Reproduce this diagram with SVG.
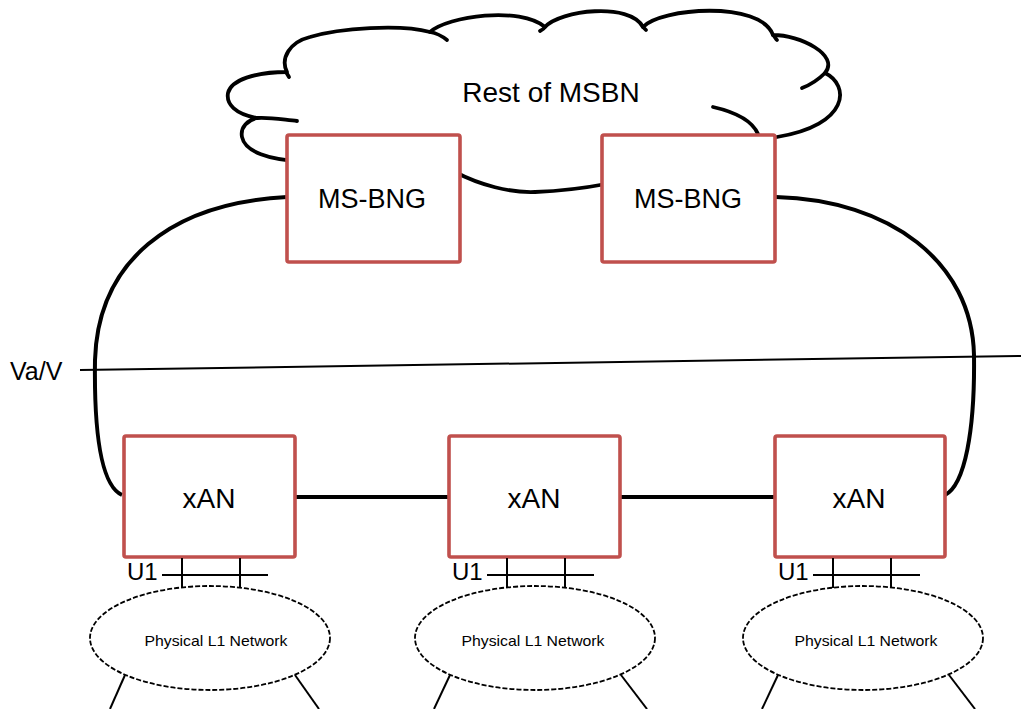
<svg xmlns="http://www.w3.org/2000/svg" width="1021" height="709" viewBox="0 0 1021 709">
<style>
.cloud{fill:none;stroke:#000;stroke-width:3.8;stroke-linecap:round;stroke-linejoin:round}
.conn{fill:none;stroke:#000;stroke-width:4;stroke-linecap:butt}
.thin{fill:none;stroke:#000;stroke-width:2}
.box{fill:#fff;stroke:#C0504D;stroke-width:3.6}
.ell{fill:none;stroke:#000;stroke-width:1.8;stroke-dasharray:5 2}
.lbl{font-family:"Liberation Sans",Arial,sans-serif;fill:#000;text-anchor:middle}
</style>
<rect width="1021" height="709" fill="#fff"/>
<g id="cloud">
<path class="cloud" d="M 300,161 C 270,160 245,152 242,137 C 240,127 248,120 257,118 C 235,114 226,104 228,93 C 231,80 255,72 287,72 C 280,58 290,42 310,37 C 340,28 400,24 430,32 C 448,16 520,6 545,27 C 560,10 630,2 643,27 C 660,8 760,0 773,35 C 800,35 840,55 825,73 C 850,85 850,125 777,137"/>
<path class="cloud" d="M 455,172 C 480,185 510,193 535,192 C 560,191 585,188 606,184"/>
<path class="cloud" d="M 257,118 C 270,117 285,120 297,121"/>
<path class="cloud" d="M 286,72 L 289,77"/>
<path class="cloud" d="M 430,32 C 436,33 442,36 447,40"/>
<path class="cloud" d="M 545,27 C 544,29 542,30 540,31"/>
<path class="cloud" d="M 643,27 L 646,30"/>
<path class="cloud" d="M 773,35 C 775,37 776,39 777,40"/>
<path class="cloud" d="M 825,73 C 818,80 810,85 802,88"/>
<path class="cloud" d="M 713,107 C 735,112 752,120 758,134"/>
<text class="lbl" x="551" y="102" font-size="28">Rest of MSBN</text>
</g>
<g id="va-v">
<line x1="80" y1="370" x2="1021" y2="356" stroke="#000" stroke-width="2"/>
<text x="10" y="380" font-family="Liberation Sans, Arial, sans-serif" font-size="25">Va/V</text>
</g>
<g id="connectors">
<path class="conn" d="M 287,197 C 170,203 98,262 95,360 C 94,430 100,485 122,495"/>
<path class="conn" d="M 776,197 C 890,200 972,262 974,355 C 975,430 965,485 945,495"/>
<line class="conn" x1="295" y1="497" x2="449" y2="497" stroke-width="4.5"/>
<line class="conn" x1="620" y1="497" x2="775" y2="497" stroke-width="4.5"/>
</g>
<g id="msbng1">
<rect class="box" x="287" y="135" width="173" height="127" rx="2"/>
<text class="lbl" x="372" y="208" font-size="27">MS-BNG</text>
</g>
<g id="msbng2">
<rect class="box" x="602" y="135" width="173" height="127" rx="2"/>
<text class="lbl" x="688" y="208" font-size="27">MS-BNG</text>
</g>
<g id="xan1">
<rect class="box" x="124" y="436" width="171" height="121" rx="2"/>
<text class="lbl" x="209" y="508" font-size="28">xAN</text>
</g>
<g id="xan2">
<rect class="box" x="449" y="436" width="171" height="121" rx="2"/>
<text class="lbl" x="534" y="508" font-size="28">xAN</text>
</g>
<g id="xan3">
<rect class="box" x="775" y="436" width="170" height="121" rx="2"/>
<text class="lbl" x="859" y="508" font-size="28">xAN</text>
</g>
<g id="u1-1">
<text x="127" y="580" font-family="Liberation Sans, Arial, sans-serif" font-size="24">U1</text>
<line class="thin" x1="162" y1="575" x2="268" y2="575"/>
<line class="thin" x1="182" y1="558" x2="182" y2="588"/>
<line class="thin" x1="240" y1="558" x2="240" y2="588"/>
</g>
<g id="u1-2">
<text x="452" y="580" font-family="Liberation Sans, Arial, sans-serif" font-size="24">U1</text>
<line class="thin" x1="487" y1="575" x2="594" y2="575"/>
<line class="thin" x1="507" y1="558" x2="507" y2="588"/>
<line class="thin" x1="565" y1="558" x2="565" y2="588"/>
</g>
<g id="u1-3">
<text x="778" y="580" font-family="Liberation Sans, Arial, sans-serif" font-size="24">U1</text>
<line class="thin" x1="813" y1="575" x2="920" y2="575"/>
<line class="thin" x1="833" y1="558" x2="833" y2="588"/>
<line class="thin" x1="891" y1="558" x2="891" y2="588"/>
</g>
<g id="l1net1">
<ellipse class="ell" cx="210" cy="638" rx="120" ry="52"/>
<text class="lbl" x="216" y="646" font-size="15" textLength="143" lengthAdjust="spacingAndGlyphs">Physical L1 Network</text>
<line class="thin" x1="125" y1="675" x2="110" y2="709"/>
<line class="thin" x1="295" y1="675" x2="319" y2="709"/>
</g>
<g id="l1net2">
<ellipse class="ell" cx="535" cy="638" rx="120" ry="52"/>
<text class="lbl" x="533" y="646" font-size="15" textLength="143" lengthAdjust="spacingAndGlyphs">Physical L1 Network</text>
<line class="thin" x1="450" y1="675" x2="434" y2="709"/>
<line class="thin" x1="621" y1="675" x2="647" y2="709"/>
</g>
<g id="l1net3">
<ellipse class="ell" cx="863" cy="638" rx="120" ry="52"/>
<text class="lbl" x="866" y="646" font-size="15" textLength="143" lengthAdjust="spacingAndGlyphs">Physical L1 Network</text>
<line class="thin" x1="778" y1="675" x2="762" y2="709"/>
<line class="thin" x1="949" y1="675" x2="975" y2="709"/>
</g>
</svg>
